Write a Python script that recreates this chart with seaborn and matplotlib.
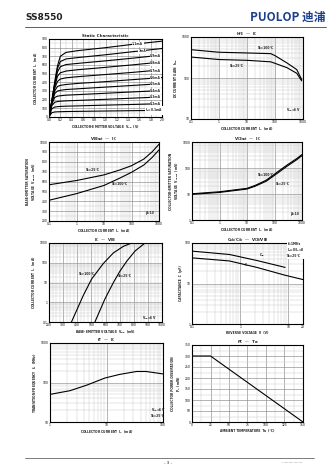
import numpy as np
import pandas as pd
import matplotlib
matplotlib.use("Agg")
import matplotlib.pyplot as plt
import seaborn as sns
from matplotlib.ticker import LogLocator, NullFormatter, MultipleLocator

sns.set_theme(style="white")
plt.rcParams["font.family"] = ["DejaVu Sans"]
plt.rcParams["mathtext.default"] = "regular"

# ---------------- data ----------------
# Static characteristic
static_vce = [0, 0.05, 0.1, 0.15, 0.2, 0.3, 0.5, 1.0, 1.5, 2.0]
static_ib_labels = ["1.1mA", "1mA", "0.9mA", "0.8mA", "0.7mA", "0.6mA",
                    "0.5mA", "0.4mA", "0.3mA", "0.2mA", "I$_B$=0.1mA"]
static_ic = [
    [0, 190, 400, 590, 700, 745, 765, 800, 840, 875],
    [0, 185, 380, 560, 640, 670, 685, 718, 755, 790],
    [0, 180, 370, 520, 580, 605, 618, 648, 680, 715],
    [0, 175, 350, 470, 510, 530, 545, 573, 603, 635],
    [0, 170, 330, 410, 438, 452, 465, 490, 516, 545],
    [0, 165, 300, 352, 365, 375, 387, 408, 432, 455],
    [0, 160, 270, 300, 308, 317, 325, 345, 365, 385],
    [0, 150, 225, 240, 245, 252, 258, 274, 290, 306],
    [0, 130, 170, 178, 182, 186, 191, 204, 218, 232],
    [0, 95, 115, 119, 122, 125, 128, 137, 145, 154],
    [0, 50, 58, 60, 61, 63, 65, 69, 73, 77],
]

# hFE - IC
hfe_ic = [0.1, 1, 10, 70, 100, 270, 600, 900]
hfe_100 = [490, 425, 408, 393, 351, 232, 160, 91]
hfe_25 = [325, 282, 270, 248, 228, 178, 130, 85]

# VBE(sat) - IC
vbe_ic = [0.1, 1, 10, 38, 100, 280, 560, 1000]
vbe_25 = [567, 610, 667, 717, 760, 827, 900, 977]
vbe_100 = [410, 477, 560, 635, 693, 767, 843, 920]

# VCE(sat) - IC
vce_ic = [0.1, 1, 10, 20, 50, 120, 280, 650, 1000]
vce_25 = [9.7, 11.5, 15.5, 20, 31, 60, 115, 210, 300]
vce_100 = [10.2, 12.2, 16.5, 21.5, 34, 67, 128, 232, 330]

# IC - VBE
icv_vbe_100 = [359, 442, 501, 585, 656, 727, 774]
icv_ic_100 = [0.1, 2.15, 14.7, 92.6, 316, 681, 926]
icv_vbe_25 = [525, 596, 656, 703, 751, 810, 874]
icv_ic_25 = [0.1, 1.47, 10, 38.3, 121, 398, 926]

# Capacitance
cib_v = [0.1, 0.6, 2.2, 8.5]
cib_c = [63, 52, 37, 25]
cob_v = [0.1, 0.6, 2.2, 8.5, 20]
cob_c = [43, 36, 25, 16, 12.5]

# fT - IC
ft_ic = [1, 2.25, 4.4, 9.4, 17, 34, 50, 100]
ft_val = [50, 62, 85, 130, 160, 190, 190, 165]

# PC - Ta
pc_ta = [0, 25, 150]
pc_val = [300, 300, 0]

# ---------------- figure ----------------
W, H = 336, 475
fig = plt.figure(figsize=(W / 100, H / 100), dpi=100)
fig.patch.set_facecolor("white")


def add_ax(x0, y0, x1, y1):
    return fig.add_axes([x0 / W, 1 - y1 / H, (x1 - x0) / W, (y1 - y0) / H])


TFS = 2.2
LFS = 2.2


def style(ax, xlog=False, ylog=False):
    if xlog:
        ax.set_xscale("log")
        ax.xaxis.set_minor_locator(LogLocator(base=10, subs=np.arange(2, 10)))
        ax.xaxis.set_minor_formatter(NullFormatter())
    if ylog:
        ax.set_yscale("log")
        ax.yaxis.set_minor_locator(LogLocator(base=10, subs=np.arange(2, 10)))
        ax.yaxis.set_minor_formatter(NullFormatter())
    ax.grid(True, which="major", color="#8a8a8a", lw=0.45)
    ax.grid(True, which="minor", color="#c4c4c4", lw=0.3)
    ax.set_axisbelow(True)
    for s in ax.spines.values():
        s.set_color("black")
        s.set_linewidth(0.8)
    ax.tick_params(which="both", length=0, labelsize=TFS, pad=1.0, colors="black")


def labels(ax, xl, yl, title):
    ax.set_xlabel(xl, fontsize=LFS, fontweight="bold", labelpad=0.8)
    ax.set_ylabel(yl, fontsize=LFS, fontweight="bold", labelpad=1.2)
    ax.set_title(title, fontsize=2.9, fontweight="bold", pad=1.2)


def txt(ax, x, y, s, box=False, **kw):
    bb = dict(boxstyle="square,pad=0.15", fc="white", ec="none") if box else None
    ax.text(x, y, s, fontsize=2.2, fontweight="bold", bbox=bb, **kw)


LW = 0.8

# ---- panel 1: static characteristic ----
ax = add_ax(49, 39, 162, 117)
style(ax)
for ic in static_ic:
    sns.lineplot(x=static_vce, y=ic, ax=ax, color="black", lw=LW)
ax.set_xlim(0, 2.0)
ax.set_ylim(0, 900)
ax.xaxis.set_minor_locator(MultipleLocator(0.1))
ax.yaxis.set_major_locator(MultipleLocator(100))
ax.yaxis.set_minor_locator(MultipleLocator(50))
ax.set_xticks(np.arange(0, 2.01, 0.2))
ax.set_xticklabels([f"{v:.1f}" for v in np.arange(0, 2.01, 0.2)])
lab_x = [1.47, 1.58, 1.79, 1.79, 1.79, 1.79, 1.79, 1.79, 1.79, 1.79, 1.7]
for ic, lb, lx in zip(static_ic, static_ib_labels, lab_x):
    yv = np.interp(lx, static_vce, ic)
    txt(ax, lx, yv, lb, box=True, va="center", ha="left")
labels(ax, "COLLECTOR-EMITTER VOLTAGE  V$_{CE}$  (V)",
       "COLLECTOR CURRENT  I$_C$  (mA)", "Static Characteristic")

# ---- panel 2: hFE - IC ----
ax = add_ax(191, 37, 303, 119)
style(ax, xlog=True, ylog=True)
sns.lineplot(x=hfe_ic, y=hfe_100, ax=ax, color="black", lw=LW)
sns.lineplot(x=hfe_ic, y=hfe_25, ax=ax, color="black", lw=LW)
ax.set_xlim(0.1, 1000)
ax.set_ylim(10, 1000)
ax.set_xticks([0.1, 1, 10, 100, 1000])
ax.set_xticklabels(["0.1", "1", "10", "100", "1000"])
ax.set_yticks([10, 100, 1000])
ax.set_yticklabels(["10", "100", "1000"])
txt(ax, 25, 470, "Ta=100°C", va="bottom")
txt(ax, 2.5, 215, "Ta=25°C", va="top")
txt(ax, 250, 13, "V$_{CE}$=6V", va="bottom")
labels(ax, "COLLECTOR CURRENT  I$_C$  (mA)", "DC CURRENT GAIN  h$_{FE}$",
       "h$_{FE}$  —  I$_C$")

# ---- panel 3: VBE(sat) - IC ----
ax = add_ax(49, 142, 159, 221)
style(ax, xlog=True)
sns.lineplot(x=vbe_ic, y=vbe_25, ax=ax, color="black", lw=LW)
sns.lineplot(x=vbe_ic, y=vbe_100, ax=ax, color="black", lw=LW)
ax.set_xlim(0.1, 1000)
ax.set_ylim(200, 1000)
ax.yaxis.set_major_locator(MultipleLocator(100))
ax.yaxis.set_minor_locator(MultipleLocator(50))
ax.set_xticks([0.1, 1, 10, 100, 1000])
ax.set_xticklabels(["0.1", "1", "10", "100", "1000"])
txt(ax, 2.2, 705, "Ta=25°C")
txt(ax, 20, 560, "Ta=100°C")
txt(ax, 330, 270, "β=10")
labels(ax, "COLLECTOR CURRENT  I$_C$  (mA)",
       "BASE-EMITTER SATURATION\nVOLTAGE  V$_{BEsat}$  (mV)",
       "V$_{BEsat}$  —  I$_C$")

# ---- panel 4: VCE(sat) - IC ----
ax = add_ax(192, 142, 302, 220)
style(ax, xlog=True, ylog=True)
sns.lineplot(x=vce_ic, y=vce_25, ax=ax, color="black", lw=LW)
sns.lineplot(x=vce_ic, y=vce_100, ax=ax, color="black", lw=LW)
ax.set_xlim(0.1, 1000)
ax.set_ylim(1, 1000)
ax.set_xticks([0.1, 1, 10, 100, 1000])
ax.set_xticklabels(["0.1", "1", "10", "100", "1000"])
ax.set_yticks([1, 10, 100, 1000])
ax.set_yticklabels(["1", "10", "100", "1000"])
txt(ax, 26, 48, "Ta=100°C")
txt(ax, 110, 22, "Ta=25°C")
txt(ax, 380, 1.6, "β=10")
labels(ax, "COLLECTOR CURRENT  I$_C$  (mA)",
       "COLLECTOR-EMITTER SATURATION\nVOLTAGE  V$_{CEsat}$  (mV)",
       "V$_{CEsat}$  —  I$_C$")

# ---- panel 5: IC - VBE ----
ax = add_ax(49, 243, 162, 322)
style(ax, ylog=True)
sns.lineplot(x=icv_vbe_100, y=icv_ic_100, ax=ax, color="black", lw=LW)
sns.lineplot(x=icv_vbe_25, y=icv_ic_25, ax=ax, color="black", lw=LW)
ax.set_xlim(200, 1000)
ax.set_ylim(0.1, 1000)
ax.xaxis.set_major_locator(MultipleLocator(100))
ax.xaxis.set_minor_locator(MultipleLocator(25))
ax.set_yticks([0.1, 1, 10, 100, 1000])
ax.set_yticklabels(["0.1", "1", "10", "100", "1000"])
txt(ax, 410, 25, "Ta=100°C")
txt(ax, 690, 18, "Ta=25°C")
txt(ax, 860, 0.14, "V$_{CE}$=6V")
labels(ax, "BASE-EMITTER VOLTAGE  V$_{BE}$  (mV)",
       "COLLECTOR CURRENT  I$_C$  (mA)", "I$_C$  —  V$_{BE}$")

# ---- panel 6: Capacitance ----
ax = add_ax(192, 243, 303, 324)
style(ax, xlog=True, ylog=True)
sns.lineplot(x=cib_v, y=cib_c, ax=ax, color="black", lw=LW)
sns.lineplot(x=cob_v, y=cob_c, ax=ax, color="black", lw=LW)
ax.set_xlim(0.1, 20)
ax.set_ylim(1, 100)
ax.set_xticks([0.1, 1, 10, 20])
ax.set_xticklabels(["0.1", "1", "10", "20"])
ax.set_yticks([1, 10, 100])
ax.set_yticklabels(["1", "10", "100"])
txt(ax, 2.5, 46, "C$_{ib}$")
txt(ax, 1.2, 27, "C$_{ob}$")
txt(ax, 9.5, 45, "f=1MHz\nI$_E$=0/I$_C$=0\nTa=25°C", box=True, linespacing=1.1)
labels(ax, "REVERSE VOLTAGE  V  (V)", "CAPACITANCE  C  (pF)",
       "C$_{ob}$/C$_{ib}$  —  V$_{CB}$/V$_{EB}$")

# ---- panel 7: fT - IC ----
ax = add_ax(50, 343, 163, 422)
style(ax, xlog=True, ylog=True)
sns.lineplot(x=ft_ic, y=ft_val, ax=ax, color="black", lw=LW)
ax.set_xlim(1, 100)
ax.set_ylim(10, 1000)
ax.set_xticks([1, 10, 100])
ax.set_xticklabels(["1", "10", "100"])
ax.set_yticks([10, 100, 1000])
ax.set_yticklabels(["10", "100", "1000"])
txt(ax, 62, 13, "V$_{CE}$=6V\nTa=25°C", linespacing=1.1)
labels(ax, "COLLECTOR CURRENT  I$_C$  (mA)",
       "TRANSITION FREQUENCY  f$_T$  (MHz)", "f$_T$  —  I$_C$")

# ---- panel 8: PC - Ta ----
ax = add_ax(192, 345, 303, 422)
style(ax)
sns.lineplot(x=pc_ta, y=pc_val, ax=ax, color="black", lw=LW)
ax.set_xlim(0, 150)
ax.set_ylim(0, 350)
ax.xaxis.set_major_locator(MultipleLocator(25))
ax.xaxis.set_minor_locator(MultipleLocator(12.5))
ax.yaxis.set_major_locator(MultipleLocator(50))
ax.yaxis.set_minor_locator(MultipleLocator(25))
labels(ax, "AMBIENT TEMPERATURE  Ta  (°C)",
       "COLLECTOR POWER DISSIPATION\nP$_C$  (mW)", "P$_C$  —  Ta")

# ---------------- header / footer ----------------
fig.text(25 / W, 1 - 18 / H, "SS8550", fontsize=6.5, fontweight="bold",
         va="center", ha="left", color="#222222")
fig.text(326 / W, 1 - 17 / H, "PUOLOP 迪浦", fontsize=8.5, fontweight="bold",
         va="center", ha="right", color="#1d3f8f",
         family=["Noto Sans CJK SC", "DejaVu Sans"])
fig.add_artist(plt.Line2D([25 / W, 326 / W], [1 - 27 / H, 1 - 27 / H],
                          color="#444444", lw=0.6))
fig.add_artist(plt.Line2D([25 / W, 314 / W], [1 - 458 / H, 1 - 458 / H],
                          color="#666666", lw=0.6))
fig.text(168 / W, 1 - 463 / H, "- 3 -", fontsize=3, ha="center", va="center")
fig.text(292 / W, 1 - 463 / H, "·················", fontsize=3, ha="center",
         va="center")

fig.savefig("out.png", dpi=100, facecolor="white")
